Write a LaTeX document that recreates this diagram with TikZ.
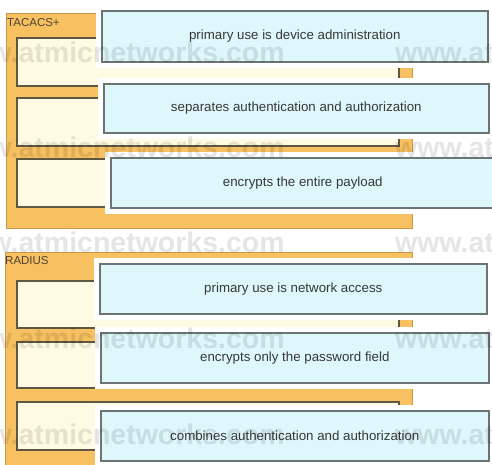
\documentclass[tikz,border=0pt]{standalone}
\usepackage{fontspec}
\setmainfont{Liberation Sans}

\definecolor{panelfill}{HTML}{F7C162}
\definecolor{paneledge}{HTML}{C8974A}
\definecolor{slotfill}{HTML}{FFFBE2}
\definecolor{slotedge}{HTML}{5F5742}
\definecolor{cardfill}{HTML}{DDF7FB}
\definecolor{cardedge}{HTML}{6C7474}
\definecolor{inktext}{HTML}{383838}
\definecolor{tagtext}{HTML}{4E4232}

\begin{document}
\begin{tikzpicture}[x=1pt,y=-1pt,
  panel/.style={fill=panelfill,draw=paneledge,line width=1pt},
  slot/.style={fill=slotfill,draw=slotedge,line width=1.4pt},
  card/.style={rectangle,fill=cardfill,draw=cardedge,line width=1.6pt,
    preaction={draw=white,line width=12pt},
    anchor=north west,inner sep=0pt,
    font=\fontsize{13.3}{15}\selectfont,text=inktext},
  tag/.style={anchor=west,inner sep=0pt,
    font=\fontsize{11.5}{13}\selectfont,text=tagtext},
  wmark/.style={anchor=base west,inner sep=0pt,opacity=0.1,
    font=\fontsize{28.5}{30}\selectfont\bfseries,text=black}
]
\useasboundingbox (0,0) rectangle (492,464);
\clip (0,0) rectangle (492,464);

% TACACS+ panel with its three drop slots
\draw[panel] (6,13) rectangle (412,228);
\draw[slot] (17,38) rectangle (399,86);
\draw[slot] (17,98) rectangle (399,146);
\draw[slot] (17,159) rectangle (399,207);
\node[tag] (tacacs) at (7,23) {TACACS+};

% RADIUS panel with its three drop slots
\draw[panel] (5,252) rectangle (412,475);
\draw[slot] (17,281) rectangle (399,328);
\draw[slot] (17,342) rectangle (399,388);
\draw[slot] (17,402) rectangle (399,450);
\node[tag] (radius) at (5,261) {RADIUS};

% answer cards placed on the slots
\node[card,minimum width=386pt,minimum height=51pt] (c1) at (101,10)
  {primary use is device administration};
\node[card,minimum width=385pt,minimum height=49pt] (c2) at (103,83)
  {separates authentication and authorization};
\node[card,minimum width=384pt,minimum height=50pt] (c3) at (110,157)
  {encrypts the entire payload};
\node[card,minimum width=387pt,minimum height=50pt] (c4) at (99,263)
  {primary use is network access};
\node[card,minimum width=388pt,minimum height=50pt] (c5) at (100,332)
  {encrypts only the password field};
\node[card,minimum width=388pt,minimum height=50pt] (c6) at (100,410)
  {combines authentication and authorization};

% faint site watermark over everything
\foreach \yy [count=\i] in {62,157,252,348,444} {
  \node[wmark] (wa\i) at (-55,\yy) {www.atmicnetworks.com};
  \node[wmark] (wb\i) at (395,\yy) {www.atmicnetworks.com};
}
\end{tikzpicture}
\end{document}
